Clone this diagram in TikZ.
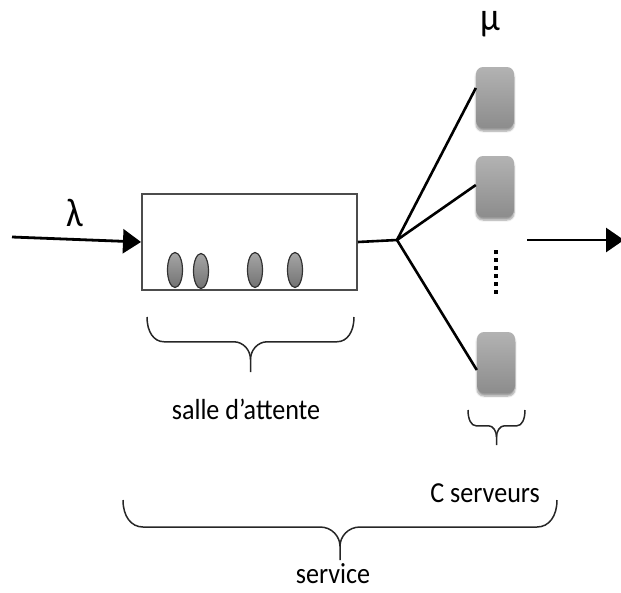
\documentclass[tikz,border=0pt]{standalone}
\usepackage{fontspec}
\setmainfont{Carlito}[FakeStretch=0.9]
\usetikzlibrary{arrows.meta,shadows.blur,shapes.geometric}

\tikzset{
  lbl/.style={inner sep=0pt, font=\fontsize{29}{31}\selectfont},
  greek/.style={inner sep=0pt, font=\fontsize{40}{42}\selectfont},
  flow/.style={line width=2.8pt, -{Triangle[length=18pt,width=24pt]}},
  wire/.style={line width=2.6pt, black},
  queuebox/.style={draw=black!70, line width=2pt, fill=white, minimum width=215pt, minimum height=96pt, inner sep=0pt},
  client/.style={ellipse, draw=black!80, line width=1.2pt, top color=black!35, bottom color=black!55, minimum width=15pt, minimum height=35pt, inner sep=0pt},
  server/.style={rounded corners=7pt, minimum width=38pt, minimum height=61pt, inner sep=0pt,
    top color=black!30, bottom color=black!45, blur shadow={shadow xshift=0pt, shadow yshift=-3pt, shadow blur steps=6}},
  bracestyle/.style={line width=1.5pt, black!85}
}

% curly brace opening upwards: x-left, x-right, top y, tip y, end radius
\newcommand\drawcurly[5]{%
  \pgfmathsetmacro\bxm{(#1+#2)/2}%
  \pgfmathsetmacro\bh{#3+0.45*(#4-#3)}%
  \pgfmathsetmacro\bs{#3+0.77*(#4-#3)}%
  \pgfmathsetmacro\bc{#3+0.61*(#4-#3)}%
  \draw[bracestyle] (#1,#3) .. controls (#1,#3+0.6*\bh-0.6*#3) and (#1+0.4*#5,\bh) .. (#1+#5,\bh)
    -- (\bxm-#5,\bh) .. controls (\bxm-0.4*#5,\bh) and (\bxm,\bc) .. (\bxm,\bs) -- (\bxm,#4);
  \draw[bracestyle] (#2,#3) .. controls (#2,#3+0.6*\bh-0.6*#3) and (#2-0.4*#5,\bh) .. (#2-#5,\bh)
    -- (\bxm+#5,\bh) .. controls (\bxm+0.4*#5,\bh) and (\bxm,\bc) .. (\bxm,\bs);
}

\begin{document}
\begin{tikzpicture}[x=1pt,y=-1pt]
\useasboundingbox (0,0) rectangle (621,592);

% waiting room
\node[queuebox] (queue) at (249.5,242) {};
\node[client] (c1) at (175,270) {};
\node[client] (c2) at (201,271) {};
\node[client] (c3) at (255,270) {};
\node[client] (c4) at (295,270) {};

% arrivals
\coordinate (src) at (12,237);
\draw[flow] (src) -- (queue.west);
\node[greek] (lambda) at (75,213) {λ};

% servers
\node[server] (s1) at (495,97.5) {};
\node[server] (s2) at (495,186.5) {};
\node[server] (s3) at (496,362.5) {};
\node[greek] (mu) at (490,24) {μ};
\coordinate (dtop) at (496,250);
\coordinate (dbot) at (496,297);
\draw[line width=4pt, dash pattern=on 4pt off 4pt] (dtop) -- (dbot);

% dispatch
\coordinate (hub) at (397,240);
\draw[wire] (queue.east) -- (hub);
\draw[wire] (hub) -- (s1.west |- 0,88);
\draw[wire] (hub) -- (s2.west |- 0,185);
\draw[wire] (hub) -- (s3.west |- 0,370);

% departures
\coordinate (outA) at (527,240);
\coordinate (outB) at (624,240);
\draw[flow] (outA) -- (outB);

% braces and labels
\drawcurly{147}{354}{317}{372}{17}
\node[lbl] (wait) at (246,409) {salle d’attente};
\drawcurly{468}{525}{410}{445}{8}
\node[lbl, anchor=east] (cserv) at (540,493) {C serveurs};
\drawcurly{123}{557}{500}{560}{20}
\node[lbl] (svc) at (333,574) {service};
\end{tikzpicture}
\end{document}
